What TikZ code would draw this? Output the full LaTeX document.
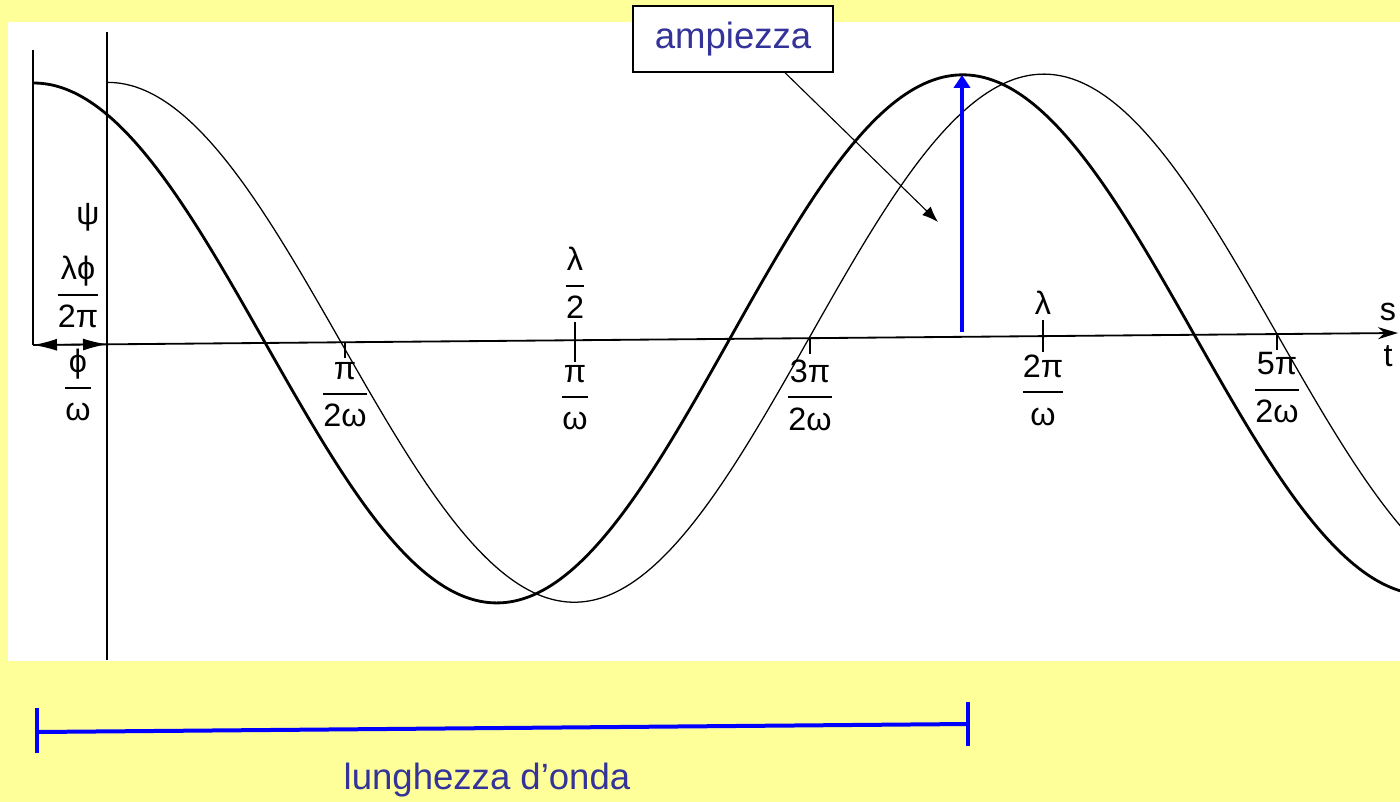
\documentclass[tikz,border=0pt]{standalone}
\usepackage{amsmath}
\usepackage{fontspec}
\setmainfont{Liberation Sans}
\usetikzlibrary{positioning,arrows.meta}
\definecolor{sfondo}{HTML}{FFFF99}
\definecolor{testo}{HTML}{333399}
\definecolor{blu}{HTML}{0000FF}
\tikzset{onda spessa/.style={line width=2pt},
onda sottile/.style={line width=0.9pt},
tacca/.style={line width=1.1pt},
etichetta/.style={inner sep=1pt,font=\fontsize{23}{25}\selectfont},
scritta/.style={text=testo,font=\fontsize{26}{28}\selectfont}}
\newcommand{\frz}[2]{$\genfrac{}{}{1.4pt}{0}{\text{#1}}{\text{#2}}$}

\begin{document}
\begin{tikzpicture}[x=0.25mm,y=-0.25mm]
    \useasboundingbox (0,0) rectangle (1400,802);
    \fill[sfondo] (0,0) rectangle (1400,802);
    \fill[white] (8,22) rectangle (1400,661);

    % curves
    \begin{scope}
    \clip (8,22) rectangle (1400,661);
    \draw[onda spessa] plot[domain=33:1405,samples=300,smooth]
        (\x,{345-0.00882*(\x-35)-262*cos(0.38751*(\x-33))});
    \draw[onda sottile] plot[domain=107:1405,samples=300,smooth]
        (\x,{345-0.00882*(\x-35)-262*cos(0.384615*(\x-107))});
    \end{scope}

    \coordinate (o) at (33,345);
    \coordinate (p) at (107,344.3);
    \coordinate (fine) at (1398,333);
    \draw[line width=1.3pt] (o) -- (33,50);
    \draw[line width=1pt] (107,32) -- (107,660);
    \draw[line width=1.3pt,-{Stealth[length=5mm,width=3mm]}] (o) -- (fine);
    \draw[line width=1pt,{Latex[length=6mm,width=3mm]}-{Latex[length=6mm,width=3mm]}] (o) -- (p);

    \coordinate (t1) at (345,342.3);
    \coordinate (t2) at (575,340.2);
    \coordinate (t3) at (810,338.2);
    \coordinate (t4) at (1043,336.1);
    \coordinate (t5) at (1277,334);
    \draw[tacca] (t1) -- ++(0,16) coordinate (e1);
    \draw[tacca] ([yshift=18*0.25mm]t2) coordinate (s2) -- ++(0,40) coordinate (e2);
    \draw[tacca] (t3) -- ++(0,16) coordinate (e3);
    \draw[tacca] ([yshift=16*0.25mm]t4) coordinate (s4) -- ++(0,32) coordinate (e4);
    \draw[tacca] (t5) -- ++(0,16) coordinate (e5);

    \node[etichetta] (f1) [below=0.5mm of e1] {\frz{π}{2ω}};
    \node[etichetta] (f2) [above=0.5mm of s2] {\frz{λ}{2}};
    \node[etichetta] (f3) [below=0.3mm of e2] {\frz{π}{ω}};
    \node[etichetta] (f4) [below=1mm of e3] {\frz{3π}{2ω}};
    \node[etichetta] (f5) [above=1mm of s4] {λ};
    \node[etichetta] (f6) [below=0.3mm of e4] {\frz{2π}{ω}};
    \node[etichetta] (f7) [below=0.2mm of e5] {\frz{5π}{2ω}};
    \node[etichetta] (s) at (1388,312) {s};
    \node[etichetta] (t) at (1388,356) {t};

    \node[etichetta] (f8) at (78,292) {\frz{λϕ}{2π}};
    \node[etichetta] (f9) at (78,385) {\frz{ϕ}{ω}};
    \node[etichetta] (psi) at (88,217) {ψ};

    % ampiezza
    \node[draw,line width=1pt,fill=white,scritta,minimum width=50mm,minimum height=16.5mm,inner sep=0pt] (amp) at (733,39) {ampiezza};
    \coordinate (punta) at (938,222);
    \draw[line width=0.8pt,-{Latex[length=4mm,width=3mm]}] ([xshift=13mm]amp.south) -- (punta);
    \coordinate (a0) at (962,332);
    \coordinate (a1) at (962,75);
    \draw[blu,line width=1mm,-{Triangle[length=3.2mm,width=4mm]}] (a0) -- (a1);

    % lunghezza d'onda
    \coordinate (l0) at (37,732);
    \coordinate (l1) at (968,724);
    \draw[blu,line width=1mm] (l0) -- (l1);
    \draw[blu,line width=0.8mm] ([yshift=24*0.25mm]l0) -- ([yshift=-21*0.25mm]l0);
    \draw[blu,line width=0.8mm] ([yshift=22*0.25mm]l1) -- ([yshift=-22*0.25mm]l1);
    \node[scritta] (lo) at (487,780) {lunghezza d’onda};
\end{tikzpicture}
\end{document}
